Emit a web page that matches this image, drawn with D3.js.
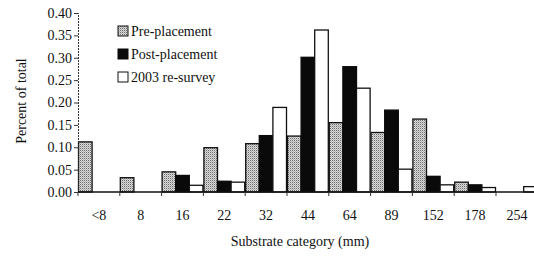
<!DOCTYPE html>
<html>
<head>
<meta charset="utf-8">
<script src="https://cdn.jsdelivr.net/npm/d3@7"></script>
<style>
  body { margin: 0; background: #fff; }
  svg text { font-family: "Liberation Serif", "Times New Roman", serif; fill: #111; }
</style>
</head>
<body>
<div id="chart"></div>
<script>
// substrate categories (mm)
var categories = ["<8", "8", "16", "22", "32", "44", "64", "89", "152", "178", "254"];
// share of total per category
var prePlacement  = [0.112, 0.032, 0.045, 0.099, 0.108, 0.125, 0.155, 0.133, 0.163, 0.022, 0];
var postPlacement = [0, 0, 0.037, 0.024, 0.126, 0.301, 0.280, 0.183, 0.035, 0.016, 0];
var resurvey2003  = [0, 0, 0.015, 0.022, 0.189, 0.362, 0.232, 0.051, 0.016, 0.010, 0.012];
var seriesNames = ["Pre-placement", "Post-placement", "2003 re-survey"];
var yTicks = [0, 0.05, 0.10, 0.15, 0.20, 0.25, 0.30, 0.35, 0.40];

function draw_function() {
    var width = 534, height = 256;
    var vis = d3.select("#chart")
        .append("svg")
        .attr("width", width).attr("height", height);

    // stipple pattern for the pre-placement bars
    var pat = vis.append("defs").append("pattern")
        .attr("id", "stipple")
        .attr("patternUnits", "userSpaceOnUse")
        .attr("width", 2).attr("height", 2);
    pat.append("rect").attr("width", 2).attr("height", 2).attr("fill", "#dcdcdc");
    pat.append("rect").attr("x", 0).attr("y", 0).attr("width", 1).attr("height", 1).attr("fill", "#6a6a6a");
    pat.append("rect").attr("x", 1).attr("y", 1).attr("width", 1).attr("height", 1).attr("fill", "#b0b0b0");

    // plot area; the last category runs past the right edge, as in the figure
    var left = 78, bandW = 41.8;
    var x = d3.scaleBand()
        .domain(categories)
        .range([left, left + bandW * categories.length])
        .padding(0);
    var y = d3.scaleLinear().domain([0, 0.40]).range([192, 13]);

    var series = [
        {name: seriesNames[0], values: prePlacement,  fill: "url(#stipple)", stroke: "#111"},
        {name: seriesNames[1], values: postPlacement, fill: "#0a0a0a", stroke: "#0a0a0a"},
        {name: seriesNames[2], values: resurvey2003,  fill: "#fff", stroke: "#111"}
    ];
    var inner = d3.scaleBand()
        .domain(d3.range(series.length))
        .range([0.5, x.bandwidth() - 0.5])
        .padding(0);

    series.forEach(function(s, si) {
        vis.selectAll("rect.s" + si)
            .data(s.values.map(function(v, i) { return {cat: categories[i], v: v}; }))
            .enter()
            .append("rect")
            .attr("class", "s" + si)
            .attr("x", function(d) { return x(d.cat) + inner(si); })
            .attr("y", function(d) { return y(d.v); })
            .attr("width", inner.bandwidth())
            .attr("height", function(d) { return y(0) - y(d.v); })
            .attr("fill", s.fill)
            .attr("stroke", s.stroke)
            .attr("stroke-width", 1.3);
    });

    // y axis
    var yAxis = d3.axisLeft(y)
        .tickValues(yTicks)
        .tickSize(4)
        .tickFormat(d3.format(".2f"));
    var gy = vis.append("g")
        .attr("transform", "translate(" + left + ",0)")
        .call(yAxis);
    gy.select(".domain").attr("stroke", "#333").attr("stroke-dasharray", "2,1");
    gy.selectAll(".tick line").attr("stroke", "#333");
    gy.selectAll(".tick text")
        .attr("font-size", 14)
        .attr("font-family", "Liberation Serif")
        .attr("x", -6);

    // x axis: ticks sit on the category boundaries
    var gx = vis.append("g")
        .attr("transform", "translate(0," + y(0) + ")");
    gx.append("line")
        .attr("x1", left).attr("x2", width)
        .attr("stroke", "#111").attr("stroke-width", 1.3);
    gx.selectAll("line.tk")
        .data(categories)
        .enter()
        .append("line")
        .attr("class", "tk")
        .attr("x1", function(d) { return x(d); })
        .attr("x2", function(d) { return x(d); })
        .attr("y1", 0).attr("y2", 4)
        .attr("stroke", "#333");
    gx.selectAll("text")
        .data(categories)
        .enter()
        .append("text")
        .attr("x", function(d) { return x(d) + x.bandwidth() / 2; })
        .attr("y", 28)
        .attr("text-anchor", "middle")
        .attr("font-size", 14)
        .text(function(d) { return d; });

    // axis titles
    vis.append("text")
        .attr("x", 300).attr("y", 246)
        .attr("text-anchor", "middle")
        .attr("font-size", 14)
        .text("Substrate category (mm)");
    vis.append("text")
        .attr("transform", "translate(26,101) rotate(-90)")
        .attr("text-anchor", "middle")
        .attr("font-size", 14)
        .text("Percent of total");

    // legend
    var lg = vis.append("g").attr("transform", "translate(118,0)");
    series.forEach(function(s, si) {
        var yy = 31 + si * 23;
        lg.append("rect")
            .attr("x", 0).attr("y", yy - 5)
            .attr("width", 10).attr("height", 10)
            .attr("fill", s.fill)
            .attr("stroke", s.stroke).attr("stroke-width", 1);
        lg.append("text")
            .attr("x", 13).attr("y", yy + 5)
            .attr("font-size", 14)
            .text(s.name);
    });
}

window.onload = draw_function;
</script>
</body>
</html>
